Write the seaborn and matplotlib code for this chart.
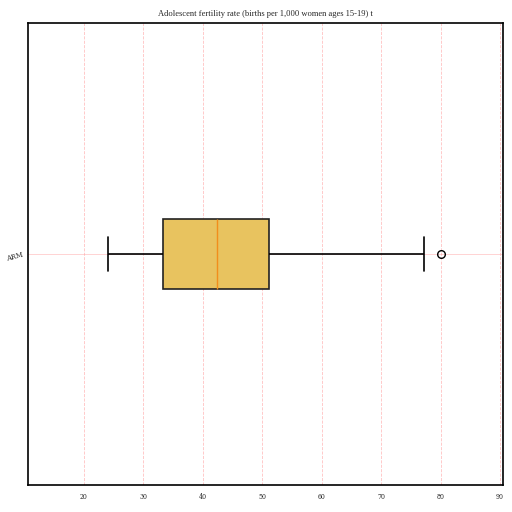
import matplotlib
matplotlib.use("Agg")
import matplotlib.pyplot as plt
import seaborn as sns
import pandas as pd

country = ["ARM"] * 21
fertility = [24.0, 27.0, 29.5, 31.0, 32.4, 33.3, 35.2, 37.6, 39.3, 41.2, 42.4,
             43.1, 44.8, 47.3, 49.6, 51.1, 55.8, 61.4, 68.9, 77.2, 80.1]
xticks = [20, 30, 40, 50, 60, 70, 80, 90]
title = "Adolescent fertility rate (births per 1,000 women ages 15-19) t"

df = pd.DataFrame({"country": country, "value": fertility})

sns.set_style("white")
plt.rcParams["font.family"] = ["DejaVu Serif"]

fig = plt.figure(figsize=(5.12, 5.12), dpi=100)
ax = fig.add_axes([28 / 512, 1 - 485 / 512, 475 / 512, 462 / 512])

sns.boxplot(data=df, x="value", y="country", orient="h", width=0.15, ax=ax,
            color="#E8C35F", saturation=1, linewidth=1.2,
            boxprops=dict(edgecolor="#222222"),
            whiskerprops=dict(color="black"),
            capprops=dict(color="black"),
            medianprops=dict(color="#F28E1C", linewidth=1.0),
            flierprops=dict(marker="o", markerfacecolor="none",
                            markeredgecolor="black", markersize=5.5))

ax.set_xlim(10.6, 90.5)
ax.set_xticks(xticks)
ax.set_xticklabels([str(t) for t in xticks], fontsize=5, stretch="condensed")
ax.tick_params(axis="y", labelsize=5.5, length=2, pad=1)
ax.tick_params(axis="x", length=2)
for lab in ax.get_yticklabels():
    lab.set_rotation(15)
    lab.set_fontstretch("condensed")
ax.set_xlabel("")
ax.set_ylabel("")
ax.set_title(title, fontsize=6.1, pad=5, family="Liberation Serif")
ax.grid(True, axis="x", color="#ff9999", linestyle="--", linewidth=0.6, alpha=0.6)
ax.grid(True, axis="y", color="#ffaaaa", linestyle="-", linewidth=0.6, alpha=0.6)
ax.set_axisbelow(True)
for s in ax.spines.values():
    s.set_color("black")
    s.set_linewidth(1.2)

fig.savefig("out.png", dpi=100)
